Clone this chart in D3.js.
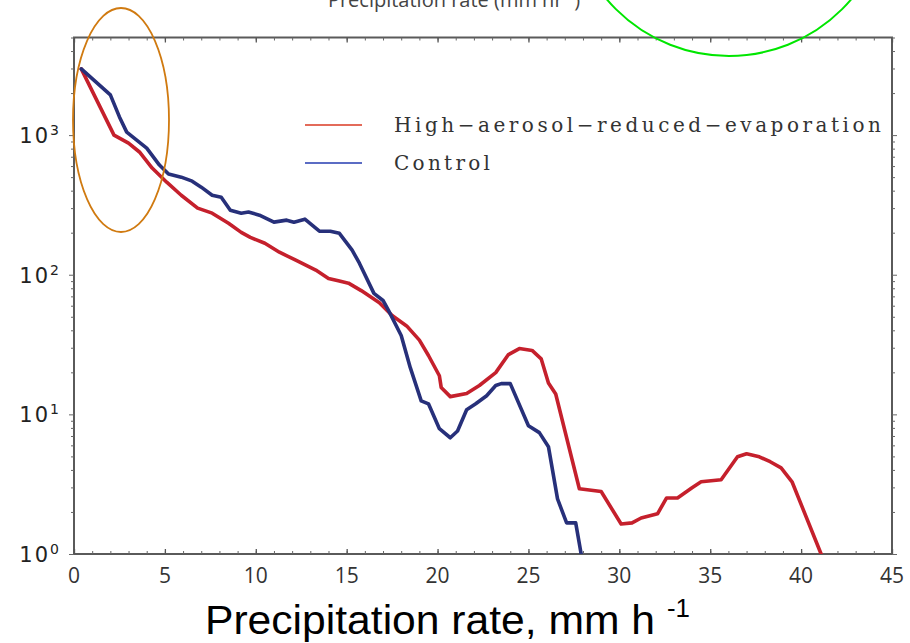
<!DOCTYPE html>
<html>
<head>
<meta charset="utf-8">
<script src="https://cdn.jsdelivr.net/npm/d3@7"></script>
<style>
  html, body { margin: 0; padding: 0; background: #fff; }
  svg { display: block; }
</style>
</head>
<body>
<svg id="chart" width="910" height="643"></svg>
<script>
// Precipitation-rate frequency distributions (log scale)
const seriesNames = ["High\u2212aerosol\u2212reduced\u2212evaporation", "Control"];

const highAerosolX = [0.4, 2.2, 3.0, 3.6, 4.3, 5.1, 5.9, 6.8, 7.6, 8.5, 9.2, 9.7, 10.5, 11.3, 12.2, 13.3, 14.0, 14.6, 15.1, 15.8, 16.8, 17.5, 18.3, 19.0, 19.5, 20.1, 20.2, 20.7, 21.6, 22.3, 23.2, 23.9, 24.5, 25.2, 25.7, 26.1, 26.5, 27.8, 29.0, 30.1, 30.7, 31.2, 32.1, 32.6, 33.2, 34.0, 34.5, 35.6, 36.5, 37.0, 37.7, 38.3, 38.9, 39.5, 41.1];
const highAerosolY = [2980, 1000, 877, 757, 581, 460, 371, 300, 276, 234, 201, 185, 168, 145, 127, 108, 94, 90, 87, 77, 63, 51, 43, 34, 26.4, 18.9, 15.6, 13.4, 14.1, 16.1, 19.9, 26.8, 29.6, 28.7, 25, 16.8, 14, 2.93, 2.8, 1.64, 1.67, 1.81, 1.94, 2.52, 2.52, 2.98, 3.29, 3.4, 4.97, 5.22, 4.97, 4.58, 4.14, 3.29, 1.0];

const controlX = [0.4, 2.0, 2.5, 2.9, 4.0, 4.7, 5.2, 5.9, 6.5, 7.0, 7.6, 8.1, 8.6, 9.2, 9.6, 10.2, 11.0, 11.7, 12.1, 12.7, 13.5, 14.1, 14.6, 15.3, 15.7, 16.5, 17.0, 17.3, 18.0, 18.5, 19.1, 19.5, 20.1, 20.7, 21.1, 21.6, 22.1, 22.7, 23.2, 23.5, 24.0, 25.0, 25.6, 26.1, 26.6, 27.1, 27.6, 27.9];
const controlY = [2980, 1940, 1350, 1050, 807, 610, 526, 500, 468, 424, 371, 359, 290, 276, 281, 267, 238, 246, 238, 250, 205, 205, 198, 150, 121, 73.5, 65.4, 55.5, 36.7, 21.6, 12.5, 11.9, 7.9, 6.8, 7.6, 10.8, 11.9, 13.6, 16.1, 16.6, 16.6, 8.3, 7.4, 5.87, 2.48, 1.67, 1.67, 1.0];

const xTickValues = [0, 5, 10, 15, 20, 25, 30, 35, 40, 45];
const yTickExponents = [0, 1, 2, 3];

const svg = d3.select("#chart");
const plot = { left: 74, right: 892, top: 37.5, bottom: 554 };

const x = d3.scaleLinear().domain([0, 45]).range([plot.left, plot.right]);
const y = d3.scaleLog().domain([1, 5000]).range([plot.bottom, plot.top]);

// clip for the curves
svg.append("defs").append("clipPath").attr("id", "plotClip")
  .append("rect")
  .attr("x", plot.left).attr("y", plot.top)
  .attr("width", plot.right - plot.left).attr("height", plot.bottom - plot.top);

// title sitting at the very top edge
const title = svg.append("text")
  .attr("x", 454).attr("y", 7)
  .attr("text-anchor", "middle")
  .attr("font-family", "'Open Sans', sans-serif")
  .attr("font-size", 20)
  .attr("fill", "#444");
title.append("tspan").text("Precipitation rate (mm hr");
title.append("tspan").attr("font-size", 13).attr("dy", -7).text("-1");
title.append("tspan").attr("dy", 7).text(")");

// frame
svg.append("rect")
  .attr("x", plot.left).attr("y", plot.top)
  .attr("width", plot.right - plot.left).attr("height", plot.bottom - plot.top)
  .attr("fill", "none").attr("stroke", "#5a5a5a").attr("stroke-width", 2);

// x ticks (inside, top and bottom)
const xMinor = d3.range(0, 46, 1);
const bottomAxis = d3.axisBottom(x).tickValues(xMinor)
  .tickSize(-3).tickFormat("");
const topAxis = d3.axisTop(x).tickValues(xMinor)
  .tickSize(-3).tickFormat("");
[svg.append("g").attr("transform", `translate(0,${plot.bottom})`).call(bottomAxis),
 svg.append("g").attr("transform", `translate(0,${plot.top})`).call(topAxis)]
  .forEach(g => {
    g.select(".domain").remove();
    g.selectAll(".tick line").attr("stroke", "#666").attr("stroke-width", 1);
  });
const bottomMajor = d3.axisBottom(x).tickValues(xTickValues).tickSize(-5).tickFormat("");
const topMajor = d3.axisTop(x).tickValues(xTickValues).tickSize(-5).tickFormat("");
[svg.append("g").attr("transform", `translate(0,${plot.bottom})`).call(bottomMajor),
 svg.append("g").attr("transform", `translate(0,${plot.top})`).call(topMajor)]
  .forEach(g => {
    g.select(".domain").remove();
    g.selectAll(".tick line").attr("stroke", "#555").attr("stroke-width", 1.3);
  });

// x tick labels
svg.append("g").selectAll("text")
  .data(xTickValues).join("text")
  .attr("x", d => x(d)).attr("y", 583)
  .attr("text-anchor", "middle")
  .attr("font-family", "'Open Sans', sans-serif")
  .attr("font-size", 21)
  .attr("fill", "#333")
  .text(d => d);

// y ticks (outside, left and right)
const yMinor = [];
for (let e = 0; e < 4; e++) for (let m = 2; m <= 9; m++) {
  const v = m * Math.pow(10, e);
  if (v <= 5000) yMinor.push(v);
}
const yMajor = yTickExponents.map(e => Math.pow(10, e));
const leftMinor = d3.axisLeft(y).tickValues(yMinor).tickSize(3).tickFormat("");
const rightMinor = d3.axisRight(y).tickValues(yMinor).tickSize(3).tickFormat("");
const leftMajor = d3.axisLeft(y).tickValues(yMajor).tickSize(5).tickFormat("");
const rightMajor = d3.axisRight(y).tickValues(yMajor).tickSize(5).tickFormat("");
[[leftMinor, plot.left], [rightMinor, plot.right], [leftMajor, plot.left], [rightMajor, plot.right]]
  .forEach(([ax, px]) => {
    const g = svg.append("g").attr("transform", `translate(${px},0)`).call(ax);
    g.select(".domain").remove();
    g.selectAll(".tick line").attr("stroke", "#666").attr("stroke-width", 1);
  });

// y tick labels as powers of ten
const yLabels = svg.append("g").selectAll("text")
  .data(yTickExponents).join("text")
  .attr("x", 59).attr("y", d => y(Math.pow(10, d)) + 8)
  .attr("text-anchor", "end")
  .attr("font-family", "'DejaVu Sans', sans-serif")
  .attr("font-size", 21)
  .attr("fill", "#222");
yLabels.append("tspan").attr("letter-spacing", 2).text("10");
yLabels.append("tspan").attr("font-size", 14).attr("dy", -8).text(d => d);

// curves
const line = d3.line()
  .x(d => x(d[0]))
  .y(d => y(d[1]));

const curves = [
  { xs: highAerosolX, ys: highAerosolY, color: "#c5202c" },
  { xs: controlX, ys: controlY, color: "#27307a" }
];
const curveGroup = svg.append("g").attr("clip-path", "url(#plotClip)");
curves.forEach(c => {
  curveGroup.append("path")
    .datum(c.xs.map((v, i) => [v, c.ys[i]]))
    .attr("d", line)
    .attr("fill", "none")
    .attr("stroke", c.color)
    .attr("stroke-width", 3.6)
    .attr("stroke-linejoin", "round")
    .attr("stroke-linecap", "round");
});

// legend
const legendColors = ["#e36b5a", "#5b6cc4"];
const legendRows = [125, 163];
const legendWidths = [487, 96];
const legend = svg.append("g");
seriesNames.forEach((name, i) => {
  legend.append("line")
    .attr("x1", 305).attr("x2", 362)
    .attr("y1", legendRows[i]).attr("y2", legendRows[i])
    .attr("stroke", legendColors[i]).attr("stroke-width", 2);
  legend.append("text")
    .attr("x", 394).attr("y", legendRows[i] + 7)
    .attr("font-family", "'DejaVu Serif', serif")
    .attr("font-size", 20)
    .attr("fill", "#333")
    .attr("textLength", legendWidths[i])
    .attr("lengthAdjust", "spacing")
    .text(name);
});

// x axis title
svg.append("text")
  .attr("x", 205).attr("y", 634)
  .attr("font-family", "'Liberation Sans', Arial, sans-serif")
  .attr("font-size", 40)
  .attr("fill", "#000")
  .attr("textLength", 450)
  .attr("lengthAdjust", "spacingAndGlyphs")
  .text("Precipitation rate, mm h");
svg.append("text")
  .attr("x", 667).attr("y", 617)
  .attr("font-family", "'Liberation Sans', Arial, sans-serif")
  .attr("font-size", 25)
  .attr("fill", "#000")
  .attr("textLength", 23)
  .attr("lengthAdjust", "spacingAndGlyphs")
  .text("-1");

// highlight marks
svg.append("ellipse")
  .attr("cx", 121).attr("cy", 120).attr("rx", 48).attr("ry", 112)
  .attr("fill", "none").attr("stroke", "#d07a10").attr("stroke-width", 1.8);
svg.append("circle")
  .attr("cx", 729).attr("cy", -104).attr("r", 160)
  .attr("fill", "none").attr("stroke", "#00e600").attr("stroke-width", 2);
</script>
</body>
</html>
